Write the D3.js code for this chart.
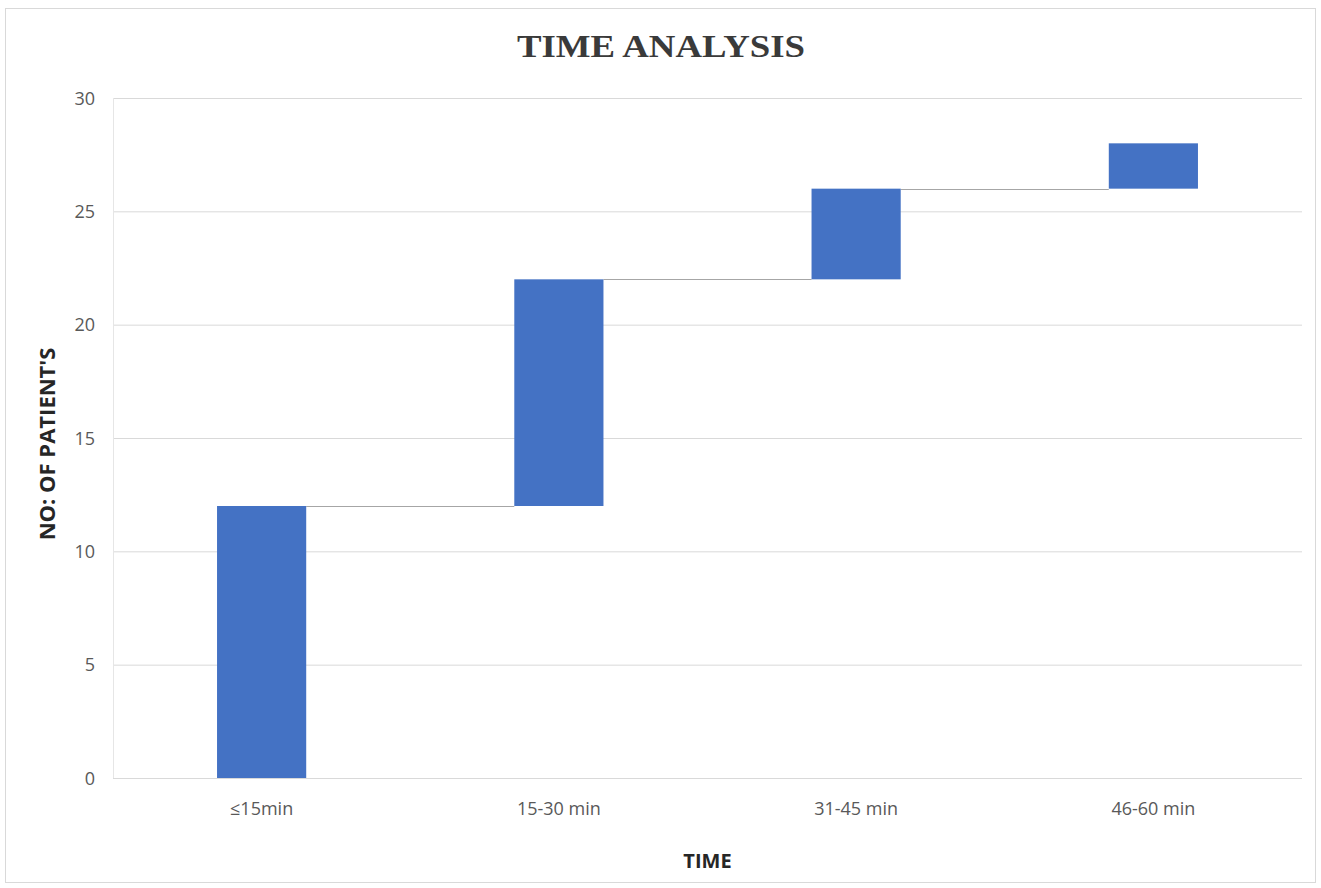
<!DOCTYPE html>
<html>
<head>
<meta charset="utf-8">
<script src="https://cdn.jsdelivr.net/npm/d3@7"></script>
<style>
  body { margin: 0; background: #fff; }
  .grid line { stroke: #d9d9d9; stroke-width: 1; }
  .grid path { display: none; }
  .axis text { font-family: "Open Sans", sans-serif; font-size: 18px; fill: #595959; }
  .axis path, .axis line { display: none; }
</style>
</head>
<body>
<script>
// data
var categories = ["≤15min", "15-30 min", "31-45 min", "46-60 min"];
var increments = [12, 10, 4, 2];
var yTicks = [0, 5, 10, 15, 20, 25, 30];

var W = 1321, H = 888;
var margin = {top: 98, right: 19, bottom: 110, left: 113};
var width = W - margin.left - margin.right,
    height = H - margin.top - margin.bottom;

var svg = d3.select("body").append("svg")
    .attr("width", W)
    .attr("height", H);

// outer chart border
svg.append("rect")
    .attr("x", 5.5).attr("y", 8.5)
    .attr("width", W - 11).attr("height", H - 14)
    .attr("fill", "none")
    .attr("stroke", "#d9d9d9");

var g = svg.append("g")
    .attr("transform", "translate(" + margin.left + "," + margin.top + ")");

// running totals for the waterfall
var data = [];
var run = 0;
increments.forEach(function(v, i) {
  data.push({cat: categories[i], start: run, end: run + v});
  run += v;
});

var x = d3.scaleBand()
    .domain(categories)
    .range([0, width])
    .paddingInner(0.7)
    .paddingOuter(0.35);

var y = d3.scaleLinear()
    .domain([0, 30])
    .range([height, 0]);

function drawGrid() {
  g.append("g")
      .attr("class", "grid")
      .call(d3.axisLeft(y).tickValues(yTicks).tickSize(-width).tickFormat(""));
  // faint left edge of the plot area
  g.append("line")
      .attr("x1", 0.5).attr("x2", 0.5)
      .attr("y1", 0).attr("y2", height)
      .attr("stroke", "#e6e6e6");
}

function drawYAxis() {
  g.append("g")
      .attr("class", "axis")
      .call(d3.axisLeft(y).tickValues(yTicks).tickSize(0).tickPadding(18))
      .selectAll("text")
      .attr("dy", "0.35em");
}

function drawXAxis() {
  g.append("g")
      .attr("class", "axis")
      .attr("transform", "translate(0," + height + ")")
      .call(d3.axisBottom(x).tickSize(0).tickPadding(24));
}

function drawConnectors() {
  g.selectAll(".connector")
      .data(data.slice(0, -1))
      .enter().append("line")
      .attr("class", "connector")
      .attr("x1", function(d) { return x(d.cat) + x.bandwidth(); })
      .attr("x2", function(d, i) { return x(categories[i + 1]); })
      .attr("y1", function(d) { return Math.round(y(d.end)) + 0.5; })
      .attr("y2", function(d) { return Math.round(y(d.end)) + 0.5; })
      .attr("stroke", "#a6a6a6")
      .attr("stroke-width", 1.2);
}

function drawBars() {
  g.selectAll(".bar")
      .data(data)
      .enter().append("rect")
      .attr("class", "bar")
      .attr("x", function(d) { return x(d.cat); })
      .attr("width", x.bandwidth())
      .attr("y", function(d) { return y(d.end); })
      .attr("height", function(d) { return y(d.start) - y(d.end); })
      .attr("fill", "#4472c4");
}

drawGrid();
drawConnectors();
drawBars();
drawYAxis();
drawXAxis();

// titles
svg.append("text")
    .attr("x", 661).attr("y", 57)
    .attr("text-anchor", "middle")
    .attr("textLength", 288)
    .attr("lengthAdjust", "spacingAndGlyphs")
    .style("font-family", "'Liberation Serif', 'Times New Roman', serif")
    .style("font-weight", "bold")
    .style("font-size", "32px")
    .style("fill", "#3a3a3a")
    .text("TIME ANALYSIS");

svg.append("text")
    .attr("transform", "translate(47,444) rotate(-90)")
    .attr("text-anchor", "middle")
    .attr("dy", "0.35em")
    .style("font-family", "'Open Sans', sans-serif")
    .style("font-weight", "bold")
    .style("font-size", "22px")
    .style("fill", "#262626")
    .text("NO: OF PATIENT'S");

svg.append("text")
    .attr("x", margin.left + width / 2).attr("y", 868)
    .attr("text-anchor", "middle")
    .style("font-family", "'Open Sans', sans-serif")
    .style("font-weight", "bold")
    .style("font-size", "20px")
    .style("fill", "#262626")
    .text("TIME");
</script>
</body>
</html>
